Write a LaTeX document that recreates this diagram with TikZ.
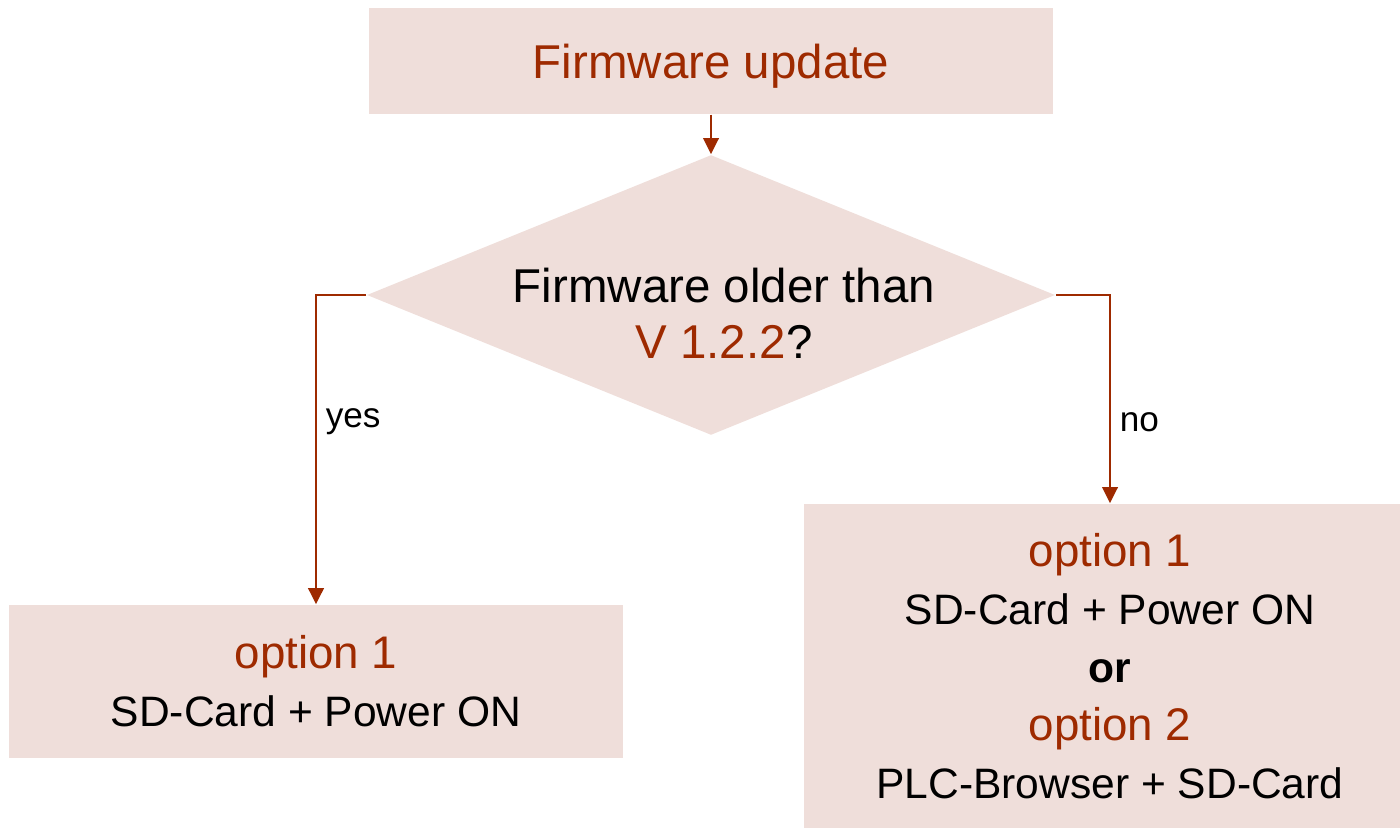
\documentclass[tikz,border=0pt]{standalone}
\usepackage{fontspec}
\setmainfont{Liberation Sans}
\usepackage{xcolor}
\usetikzlibrary{arrows.meta,shapes.geometric}
\definecolor{boxbg}{HTML}{EFDEDA}
\definecolor{rust}{HTML}{9E2A00}
\definecolor{ink}{HTML}{000000}
\newcommand{\optline}[1]{{\color{rust}\fontsize{13}{16.5}\selectfont #1}}
\tikzset{
  box/.style={rectangle, fill=boxbg, inner sep=0pt, align=center, text=ink},
  decide/.style={diamond, fill=boxbg, inner sep=0pt, aspect=2.46},
  flow/.style={draw=rust, line width=0.75pt, -{Triangle[length=4.6pt,width=4.4pt]}},
  big/.style={font=\fontsize{13.5}{15.9}\selectfont},
  mid/.style={font=\fontsize{12.1}{16.5}\selectfont},
  small/.style={font=\fontsize{10}{12}\selectfont, text=ink, inner sep=0pt, anchor=west, xshift=2.4pt}
}

\begin{document}
\begin{tikzpicture}[x=0.01cm, y=-0.01cm]
  \useasboundingbox (0,0) rectangle (1400,828);
  \clip (0,0) rectangle (1400,828);

  \node[box, big, text=rust, text depth=0pt, minimum width=6.83cm, minimum height=1.06cm] (title) at (711,61) {Firmware update};

  \node[decide, minimum width=6.88cm, minimum height=2.8cm] (check) at (711,295) {};
  \node[big, align=center] (question) at (724,313) {Firmware older than\\{\color{rust}V 1.2.2}?};

  \node[box, mid, minimum width=6.14cm, minimum height=1.53cm] (yesbox) at (316,681.5)
    {\optline{option 1}\\SD-Card + Power ON};
  \node[box, mid, minimum width=6.12cm, minimum height=3.24cm] (nobox) at (1110,666)
    {\optline{option 1}\\SD-Card + Power ON\\\textbf{or}\\\optline{option 2}\\PLC-Browser + SD-Card};

  \draw[flow] (title.south) -- (check.north);
  \draw[flow] (check.west) -| node[small, pos=0.705] (yeslabel) {yes} (yesbox.north);
  \draw[flow] (check.east) -| node[small, pos=0.806] (nolabel) {no} (nobox.north);
\end{tikzpicture}
\end{document}
